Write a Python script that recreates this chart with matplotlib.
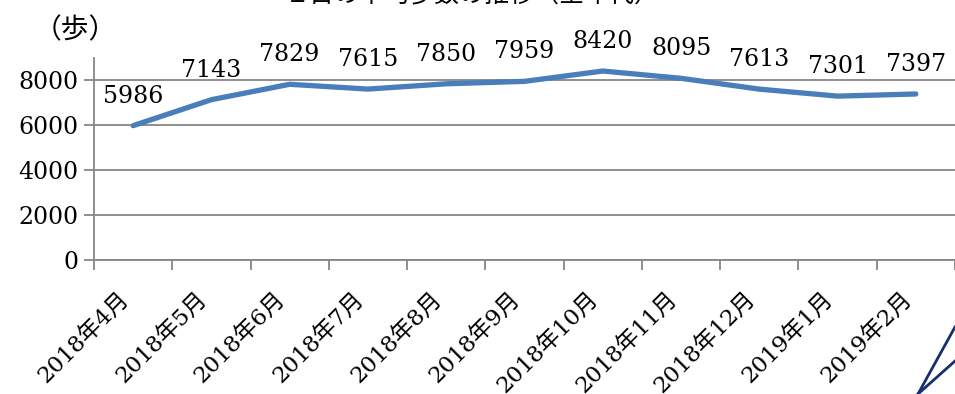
import matplotlib
matplotlib.use('Agg')
import matplotlib.pyplot as plt
from matplotlib.lines import Line2D

months = ['2018年4月', '2018年5月', '2018年6月', '2018年7月', '2018年8月',
          '2018年9月', '2018年10月', '2018年11月', '2018年12月', '2019年1月', '2019年2月']
steps = [5986, 7143, 7829, 7615, 7850, 7959, 8420, 8095, 7613, 7301, 7397]
y_ticks = [0, 2000, 4000, 6000, 8000]

FONT = ['DejaVu Serif', 'Noto Sans CJK JP']
GRID = '#868686'

fig = plt.figure(figsize=(9.55, 3.94), dpi=100)
ax = fig.add_axes([94 / 955, 1 - 260 / 394, 1 - 94 / 955, (260 - 58) / 394])

x = list(range(len(steps)))
ax.plot(x, steps, color='#4a7ebb', lw=3.8, solid_capstyle='round', solid_joinstyle='round', zorder=3)
for i, v in zip(x, steps):
    ax.annotate(str(v), (i, v), xytext=(0, 16.5), textcoords='offset points',
                ha='center', va='baseline', fontsize=17, family=FONT)

ax.set_xlim(-0.5, len(steps) - 0.5)
ax.set_ylim(0, 9000)
ax.set_yticks(y_ticks)
ax.set_yticklabels([str(t) for t in y_ticks], family=FONT, fontsize=17)
ax.yaxis.grid(True, color=GRID, lw=1.3)
ax.set_axisbelow(True)

# category labels sit under the points, tick marks sit between categories
ax.set_xticks(x)
ax.set_xticklabels(months, family=FONT, fontsize=16.5, rotation=45, ha='right', va='top')
ax.set_xticks([i - 0.5 for i in range(len(steps) + 1)], minor=True)
ax.tick_params(axis='x', which='major', length=0, pad=20)
ax.tick_params(axis='x', which='minor', length=7, color=GRID, width=1.3)
ax.tick_params(axis='y', length=7, color=GRID, width=1.3, pad=4)

for side in ['top', 'right']:
    ax.spines[side].set_visible(False)
for side in ['left', 'bottom']:
    ax.spines[side].set_color(GRID)
    ax.spines[side].set_linewidth(1.3)

fig.text(34 / 955, 1 - 30 / 394, '（歩）', family=['Noto Sans CJK JP'], fontsize=20, va='center')
fig.text(472 / 955, 1 - 1 / 394, '１日の平均歩数の推移（全年代）', family=['Noto Sans CJK JP'],
         fontsize=18, ha='center', va='baseline')

# navy arrow strokes in the lower right corner
fig.add_artist(Line2D([918 / 955, 1.0], [0, 67 / 394], color='#13306b', lw=2, transform=fig.transFigure))
fig.add_artist(Line2D([918 / 955, 1.0], [0, 33 / 394], color='#13306b', lw=2, transform=fig.transFigure))

fig.savefig('out.png', dpi=100)
